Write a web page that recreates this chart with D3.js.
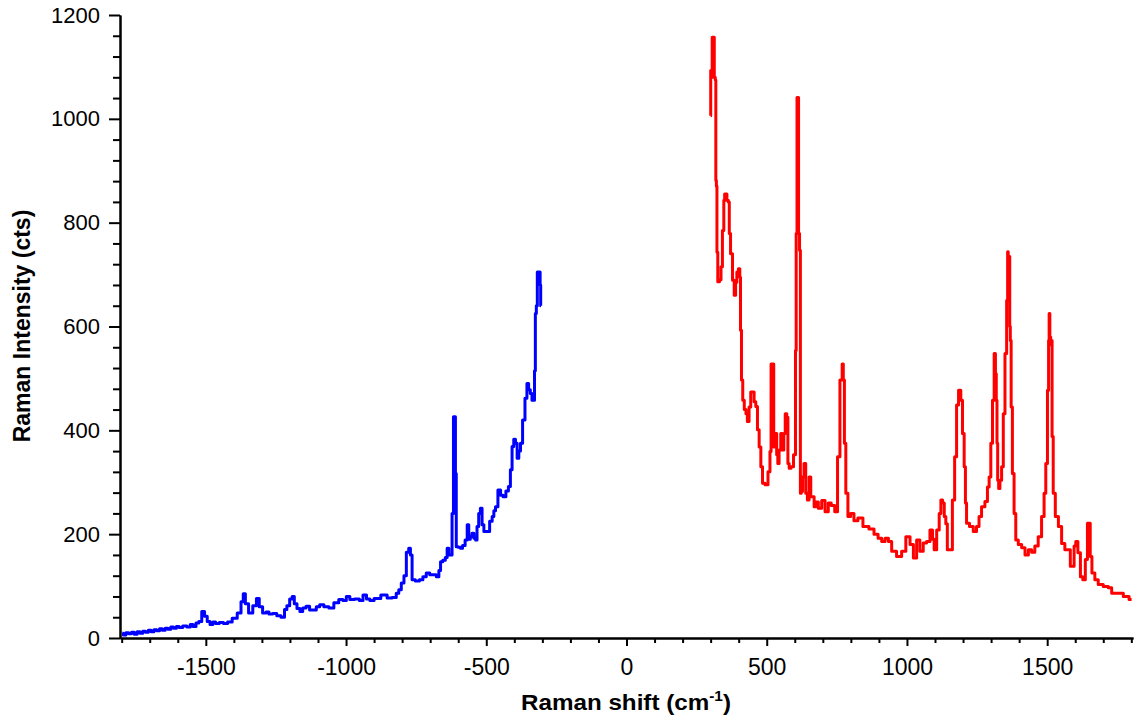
<!DOCTYPE html>
<html><head><meta charset="utf-8">
<script src="https://cdn.jsdelivr.net/npm/d3@7"></script>
<style>body{margin:0;background:#fff}svg{display:block}</style>
</head><body>
<svg id="chart" width="1146" height="721"></svg>
<script>
// ---- data ----
const xMajorTicks = [-1500, -1000, -500, 0, 500, 1000, 1500];
const xMinorTicks = [-1800,-1700,-1600,-1400,-1300,-1200,-1100,-900,-800,-700,-600,-400,-300,-200,-100,
                     100,200,300,400,600,700,800,900,1100,1200,1300,1400,1600,1700,1800];
const yMajorTicks = [0, 200, 400, 600, 800, 1000, 1200];
const yMinorTicks = [40,80,120,160,240,280,320,360,440,480,520,560,640,680,720,760,840,880,920,960,1040,1080,1120,1160];

// anti-Stokes (blue)
const antiStokesShift = [-1798,-1790,-1780,-1770,-1760,-1750,-1740,-1730,-1720,-1710,-1700,-1690,-1680,-1670,-1660,-1650,-1640,-1630,-1620,-1610,-1600,-1590,-1575,-1560,-1551,-1540,-1530,-1520,-1509,-1500,-1490,-1480,-1470,-1460,-1444,-1430,-1415,-1397,-1379,-1370,-1363,-1355,-1340,-1325,-1314,-1305,-1290,-1280,-1270,-1254,-1240,-1224,-1215,-1207,-1195,-1189,-1180,-1170,-1159,-1150,-1135,-1125,-1112,-1100,-1088,-1070,-1052,-1035,-1017,-1005,-993,-980,-960,-945,-934,-920,-910,-890,-862,-845,-827,-815,-809,-797,-790,-780,-773,-768,-761,-745,-732,-720,-708,-695,-684,-672,-666,-660,-650,-642,-637,-630,-625,-619,-615,-611,-609,-605,-595,-589,-580,-571,-565,-560,-554,-548,-540,-536,-530,-524,-518,-512,-505,-494,-482,-476,-470,-464,-453,-445,-435,-425,-417,-411,-405,-399,-393,-387,-381,-375,-366,-358,-352,-346,-340,-334,-330,-326,-324,-319,-317,-309,-307,-305];
const antiStokesIntensity = [9,6,10,8,11,7,12,9,13,11,15,12,16,14,18,15,19,17,21,19,22,20,23,21,26,22,29,32,51,42,32,26,31,28,30,28,31,38,48,70,85,66,48,62,76,60,48,50,46,47,43,40,55,62,75,80,66,57,51,58,61,54,54,60,64,60,58,68,74,72,80,74,75,72,83,75,72,76,83,77,78,86,93,106,120,165,173,160,112,110,112,118,125,122,122,118,130,147,150,155,173,160,160,240,426,426,317,176,175,173,178,189,218,190,195,202,192,189,215,240,250,218,205,205,225,234,245,253,285,275,272,283,292,324,369,383,375,346,360,375,420,462,490,478,471,458,458,515,625,640,705,705,680,640];

// Stokes (red)
const stokesShift = [300,300.5,304,307,311,315,318,319,322,323,328,335,339,345,349,351,356,360,366,367,375,381,387,391,396,402,406,407,413,416,424,428,434,440,446,452,458,464,470,476,482,488,500,509,514,517,523,527,533,538,541,547,553,559,563,569,574,577,583,590,601,604,606,610,612,615,619,621,625,630,636,642,648,654,660,666,672,678,690,702,714,725,735,750,755,767,771,775,779,785,794,804,818,832,854,875,890,904,916,928,940,951,975,987,1005,1017,1029,1040,1052,1064,1076,1088,1094,1100,1112,1118,1124,1130,1136,1141,1147,1159,1165,1175,1179,1189,1195,1201,1207,1210,1215,1231,1242,1254,1260,1272,1284,1290,1296,1302,1308,1314,1317,1320,1322,1325,1329,1334,1341,1346,1353,1358,1360,1362,1364,1366,1367,1370,1373,1379,1385,1391,1403,1415,1427,1439,1450,1462,1474,1486,1492,1498,1504,1506,1508,1511,1514,1516,1519,1524,1534,1546,1557,1569,1580,1585,1593,1599,1605,1614,1623,1631,1641,1646,1652,1655,1664,1676,1688,1712,1724,1736,1760,1783,1801];
const stokesIntensity = [1006,1093,1080,1157,1157,1080,1075,881,870,743,686,690,715,785,843,855,855,843,840,779,740,689,660,685,705,711,695,593,497,458,440,432,417,445,474,474,455,446,401,368,330,298,295,320,359,528,528,368,394,353,336,362,394,362,394,432,425,336,327,330,353,554,779,1041,1041,779,747,279,282,310,336,279,266,310,272,272,253,262,250,265,243,260,255,243,349,497,528,497,375,279,234,240,226,231,215,210,200,192,186,192,186,167,157,167,195,180,154,189,167,183,186,208,190,170,208,240,266,260,234,220,170,170,266,349,449,477,458,394,330,260,221,215,205,215,234,253,263,291,310,375,458,548,509,458,375,304,288,304,330,432,548,650,744,700,655,735,600,573,445,317,240,189,180,174,160,170,165,177,195,234,279,336,477,573,625,580,565,573,388,279,234,215,182,170,170,138,138,177,186,164,118,112,151,221,221,157,125,112,103,99,97,86,86,80,74];

// ---- layout ----
const svg = d3.select('#chart');
svg.append('rect').attr('width',1146).attr('height',721).attr('fill','#fff');
const x = d3.scaleLinear().domain([-1806, 1806]).range([120, 1133]);
const y = d3.scaleLinear().domain([0, 1200]).range([638, 15]);
const font = 'Liberation Sans, Arial, Helvetica, sans-serif';

// series
const line = d3.line().x(d => x(d[0])).y(d => y(d[1])).curve(d3.curveStep);
const blue = antiStokesShift.map((v,i) => [v, antiStokesIntensity[i]]);
const red = stokesShift.map((v,i) => [v, stokesIntensity[i]]);
svg.append('path').datum(blue).attr('d', line).attr('fill','none')
  .attr('stroke','#0000ff').attr('stroke-width',3).attr('stroke-linejoin','round');
svg.append('path').datum(red).attr('d', line).attr('fill','none')
  .attr('stroke','#ff0000').attr('stroke-width',3).attr('stroke-linejoin','round');

// axes
const xMinor = svg.append('g').attr('transform','translate(0,638)')
  .call(d3.axisBottom(x).tickValues(xMinorTicks).tickSize(5).tickSizeOuter(0).tickFormat(''));
const xMajor = svg.append('g').attr('transform','translate(0,638)')
  .call(d3.axisBottom(x).tickValues(xMajorTicks).tickSize(8).tickSizeOuter(0).tickPadding(13)
  .tickFormat(d => d));
const yMinor = svg.append('g').attr('transform','translate(120,0)')
  .call(d3.axisLeft(y).tickValues(yMinorTicks).tickSize(7).tickSizeOuter(0).tickFormat(''));
const yMajor = svg.append('g').attr('transform','translate(120,0)')
  .call(d3.axisLeft(y).tickValues(yMajorTicks).tickSize(11).tickSizeOuter(0).tickPadding(9)
  .tickFormat(d => d));
[xMinor, xMajor, yMinor, yMajor].forEach(g => {
  g.selectAll('path.domain').attr('stroke','#000').attr('stroke-width',2);
  g.selectAll('.tick line').attr('stroke','#000').attr('stroke-width',2);
});
xMajor.selectAll('text').attr('font-family',font).attr('font-size','23px').attr('fill','#000');
yMajor.selectAll('text').attr('font-family',font).attr('font-size','22px').attr('fill','#000');

// titles
const xt = svg.append('text').attr('transform','translate(626,710) scale(1.1,1)')
  .attr('text-anchor','middle').attr('font-family',font).attr('font-weight','bold')
  .attr('font-size','22px').attr('fill','#000');
xt.append('tspan').text('Raman shift (cm');
xt.append('tspan').attr('font-size','14px').attr('dy','-9').text('-1');
xt.append('tspan').attr('dy','9').text(')');

svg.append('text').attr('transform','translate(30,326) rotate(-90)')
  .attr('text-anchor','middle').attr('font-family',font).attr('font-weight','bold')
  .attr('font-size','23px').attr('fill','#000').text('Raman Intensity (cts)');
</script>
</body></html>
